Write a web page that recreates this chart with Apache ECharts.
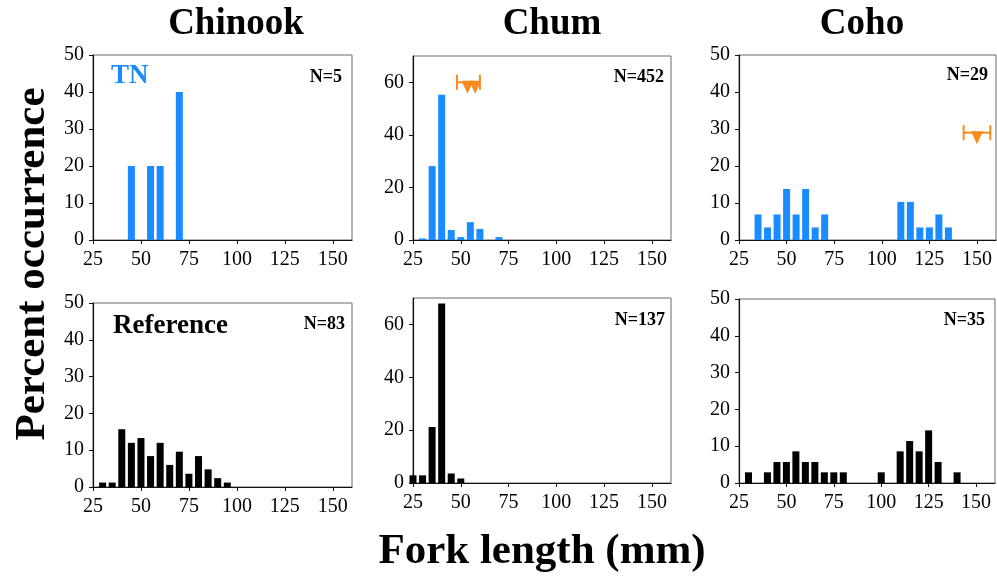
<!DOCTYPE html>
<html>
<head>
<meta charset="utf-8">
<script src="https://cdn.jsdelivr.net/npm/echarts@6/dist/echarts.min.js"></script>
<style>
html,body{margin:0;padding:0;background:#fff}
#main{width:997px;height:579px}
</style>
</head>
<body>
<div id="main"></div>
<script>
'use strict';

// fork length bins (mm) and percent occurrence
var chinookTnLen = [45, 55, 60, 70];
var chinookTnPct = [20, 20, 20, 40];
var chumTnLen = [30, 35, 40, 45, 50, 55, 60, 70];
var chumTnPct = [0.6, 28.1, 55.3, 3.8, 1.1, 6.8, 4.2, 1.1];
var cohoTnLen = [35, 40, 45, 50, 55, 60, 65, 70, 110, 115, 120, 125, 130, 135];
var cohoTnPct = [6.9, 3.4, 6.9, 13.8, 6.9, 13.8, 3.4, 6.9, 10.3, 10.3, 3.4, 3.4, 6.9, 3.4];

var chinookRefLen = [30, 35, 40, 45, 50, 55, 60, 65, 70, 75, 80, 85, 90, 95];
var chinookRefPct = [1.2, 1.2, 15.7, 12.0, 13.3, 8.4, 12.0, 6.0, 9.6, 3.6, 8.4, 4.8, 2.4, 1.2];
var chumRefLen = [25, 30, 35, 40, 45, 50];
var chumRefPct = [2.9, 2.9, 21.2, 67.9, 3.6, 1.7];
var cohoRefLen = [30, 40, 45, 50, 55, 60, 65, 70, 75, 80, 100, 110, 115, 120, 125, 130, 140];
var cohoRefPct = [2.9, 2.9, 5.7, 5.7, 8.6, 5.7, 5.7, 2.9, 2.9, 2.9, 2.9, 8.6, 11.4, 8.6, 14.3, 5.7, 2.9];

// mean length markers (triangles) with range bars, TN panels
var chumTnMean = [53.5, 57.5];
var chumTnRange = [48, 60];
var chumTnMarkY = 60;
var cohoTnMean = [150];
var cohoTnRange = [143, 157];
var cohoTnMarkY = 29;

var speciesNames = ['Chinook', 'Chum', 'Coho'];
var sampleSizes = ['N=5', 'N=452', 'N=29', 'N=83', 'N=137', 'N=35'];
var xTicks = [25, 160, 25];   // min, max, step

var FONT = '"Liberation Serif", "Times New Roman", serif';
var BLUE = '#1a8cff';
var ORANGE = '#fb8a1e';

var grids = [
	{left: 93, top: 55, width: 259, height: 185},
	{left: 413, top: 56, width: 258, height: 184},
	{left: 739, top: 55, width: 257, height: 185},
	{left: 93, top: 303, width: 259, height: 184},
	{left: 413, top: 298, width: 258, height: 185},
	{left: 739, top: 299, width: 256, height: 184}
];
var yMax = [50, 70, 50, 50, 70, 50];
var yStep = [10, 20, 10, 10, 20, 10];

function pairs(xs, ys){
	var out = [];
	for(var i=0;i<xs.length;i++) out.push([xs[i], ys[i]]);
	return out;
}

function errBar(params, api){
	var y = api.value(2);
	var p1 = api.coord([api.value(0), y]);
	var p2 = api.coord([api.value(1), y]);
	var h = 7.5;
	var st = {stroke: ORANGE, lineWidth: 2};
	return {
		type: 'group',
		children: [
			{type: 'line', shape: {x1: p1[0], y1: p1[1], x2: p2[0], y2: p2[1]}, style: st},
			{type: 'line', shape: {x1: p1[0], y1: p1[1]-h, x2: p1[0], y2: p1[1]+h}, style: st},
			{type: 'line', shape: {x1: p2[0], y1: p2[1]-h, x2: p2[0], y2: p2[1]+h}, style: st}
		]
	};
}

var xAxes = [], yAxes = [], gridOpts = [];
for(var i=0;i<6;i++){
	gridOpts.push({
		left: grids[i].left, top: grids[i].top, width: grids[i].width, height: grids[i].height,
		show: true, borderColor: '#6b6b6b', borderWidth: 1, backgroundColor: '#fff'
	});
	xAxes.push({
		gridIndex: i, type: 'value', min: xTicks[0], max: xTicks[1], interval: xTicks[2],
		axisLine: {show: true, onZero: false, lineStyle: {color: '#111', width: 1.2}},
		axisTick: {show: true, length: 4, lineStyle: {color: '#111'}},
		axisLabel: {showMaxLabel: false, margin: 10, fontFamily: FONT, fontSize: 20, color: '#000'},
		splitLine: {show: false}
	});
	yAxes.push({
		gridIndex: i, type: 'value', min: 0, max: yMax[i], interval: yStep[i],
		axisLine: {show: true, onZero: false, lineStyle: {color: '#111', width: 1.2}},
		axisTick: {show: true, length: 4, lineStyle: {color: '#111'}},
		axisLabel: {showMaxLabel: yMax[i] === 50, margin: 9, fontFamily: FONT, fontSize: 20, color: '#000'},
		splitLine: {show: false}
	});
}

var barSets = [
	[chinookTnLen, chinookTnPct, BLUE],
	[chumTnLen, chumTnPct, BLUE],
	[cohoTnLen, cohoTnPct, BLUE],
	[chinookRefLen, chinookRefPct, '#000'],
	[chumRefLen, chumRefPct, '#000'],
	[cohoRefLen, cohoRefPct, '#000']
];

var series = [];
for(var j=0;j<barSets.length;j++){
	series.push({
		type: 'bar', xAxisIndex: j, yAxisIndex: j,
		data: pairs(barSets[j][0], barSets[j][1]),
		barWidth: 7, clip: true,
		itemStyle: {color: barSets[j][2]}
	});
}

// range bars
series.push({
	type: 'custom', xAxisIndex: 1, yAxisIndex: 1, renderItem: errBar,
	data: [[chumTnRange[0], chumTnRange[1], chumTnMarkY]], z: 3
});
series.push({
	type: 'custom', xAxisIndex: 2, yAxisIndex: 2, renderItem: errBar,
	data: [[cohoTnRange[0], cohoTnRange[1], cohoTnMarkY]], z: 3
});
// mean triangles
series.push({
	type: 'scatter', xAxisIndex: 1, yAxisIndex: 1, symbol: 'triangle', symbolRotate: 180,
	symbolSize: [12, 13], symbolOffset: [0, 5], itemStyle: {color: ORANGE, opacity: 1}, z: 4,
	data: chumTnMean.map(function(v){ return [v, chumTnMarkY]; })
});
series.push({
	type: 'scatter', xAxisIndex: 2, yAxisIndex: 2, symbol: 'triangle', symbolRotate: 180,
	symbolSize: [12, 13], symbolOffset: [0, 5], itemStyle: {color: ORANGE, opacity: 1}, z: 4,
	data: cohoTnMean.map(function(v){ return [v, cohoTnMarkY]; })
});

function txt(s, x, y, size, align, color, extra){
	var g = {
		type: 'text', x: x, y: y, z: 10,
		style: {text: s, fill: color || '#000', font: 'bold ' + size + 'px ' + FONT, align: align, verticalAlign: 'middle'}
	};
	if(extra) g.rotation = extra;
	return g;
}

var nRight = [342, 664, 988, 345, 665, 985];
var nMid = [77, 77, 75, 324, 320, 320];
var graphics = [
	txt(speciesNames[0], 236, 24, 37, 'center'),
	txt(speciesNames[1], 552, 24, 37, 'center'),
	txt(speciesNames[2], 862, 24, 37, 'center'),
	txt('TN', 111, 76, 27, 'left', BLUE),
	txt('Reference', 113, 326, 27, 'left'),
	txt('Fork length (mm)', 542, 552, 43, 'center'),
	txt('Percent occurrence', 33, 264, 43, 'center', '#000', Math.PI / 2)
];
for(var k=0;k<6;k++){
	graphics.push(txt(sampleSizes[k], nRight[k], nMid[k], 18, 'right'));
}

var chart = echarts.init(document.getElementById('main'), null, {renderer: 'canvas'});
chart.setOption({
	animation: false,
	backgroundColor: '#fff',
	grid: gridOpts,
	xAxis: xAxes,
	yAxis: yAxes,
	series: series,
	graphic: graphics
});
</script>
</body>
</html>
